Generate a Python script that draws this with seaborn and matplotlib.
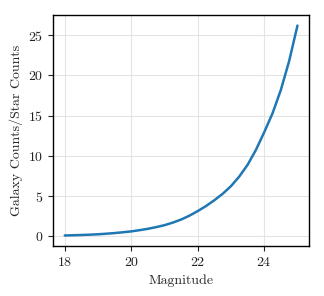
import numpy as np
import pandas as pd
import matplotlib
matplotlib.use("Agg")
import matplotlib.pyplot as plt
import seaborn as sns

# magnitude grid and galaxy/star count ratio
magnitude = [18.0, 18.25, 18.5, 18.75, 19.0, 19.25, 19.5, 19.75,
             20.0, 20.25, 20.5, 20.75, 21.0, 21.25, 21.5, 21.75,
             22.0, 22.25, 22.5, 22.75, 23.0, 23.25, 23.5, 23.75,
             24.0, 24.25, 24.5, 24.75, 25.0]
ratio = [0.12, 0.15, 0.18, 0.22, 0.27, 0.34, 0.42, 0.52,
         0.63, 0.78, 0.95, 1.16, 1.4, 1.72, 2.1, 2.58,
         3.15, 3.78, 4.5, 5.3, 6.25, 7.45, 8.9, 10.75,
         12.95, 15.3, 18.2, 21.8, 26.2]

df = pd.DataFrame({"Magnitude": magnitude, "Ratio": ratio})

sns.set_theme(style="ticks")
plt.rcParams["font.family"] = "serif"
plt.rcParams["font.serif"] = ["cmr10", "DejaVu Serif"]
plt.rcParams["mathtext.fontset"] = "cm"
plt.rcParams["axes.formatter.use_mathtext"] = True
plt.rcParams["font.size"] = 10

fig = plt.figure(figsize=(3.24, 2.96), dpi=100)
ax = fig.add_axes([0.164, 0.169, 0.790, 0.780])

sns.lineplot(data=df, x="Magnitude", y="Ratio", color="#1f77b4", linewidth=1.8, ax=ax)

ax.grid(True, color="#e4e4e4", linewidth=0.8)
ax.set_axisbelow(True)
for s in ax.spines.values():
    s.set_color("black")
    s.set_linewidth(1.0)
ax.tick_params(labelsize=10, length=3.5, width=0.8, colors="#222222")
ax.set_xticks([18, 20, 22, 24])
ax.set_yticks([0, 5, 10, 15, 20, 25])
ax.set_xlabel("Magnitude", fontsize=10)
ax.set_ylabel("Galaxy Counts/Star Counts", fontsize=10)

fig.savefig("out.png", dpi=100)
